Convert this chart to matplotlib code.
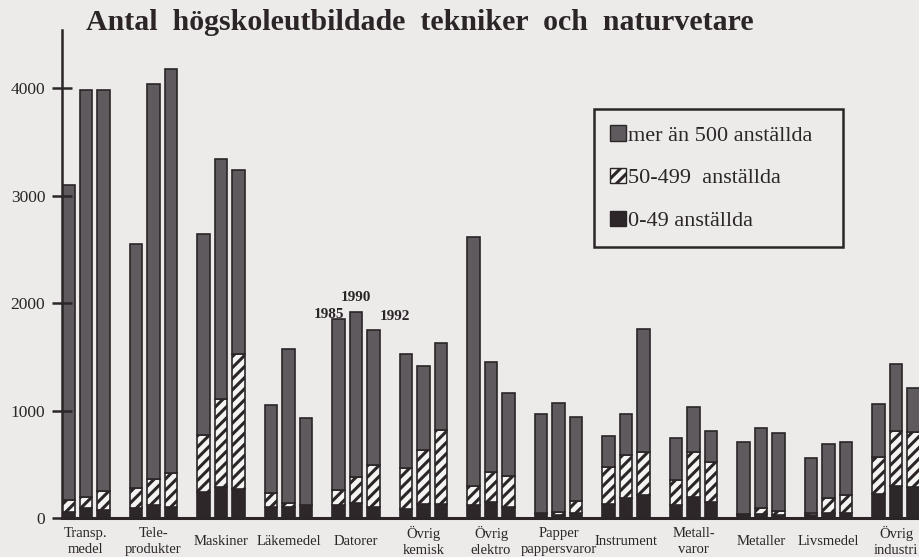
import numpy as np
import matplotlib
matplotlib.use("Agg")
import matplotlib.pyplot as plt
from matplotlib.patches import Patch

plt.rcParams['font.family'] = ['Liberation Serif', 'DejaVu Serif']
plt.rcParams['hatch.linewidth'] = 2.2

# branscher (grupper) och år
categories = ["Transp.\nmedel", "Tele-\nprodukter", "Maskiner", "Läkemedel", "Datorer",
              "Övrig\nkemisk", "Övrig\nelektro", "Papper\npappersvaror", "Instrument",
              "Metall-\nvaror", "Metaller", "Livsmedel", "Övrig\nindustri"]
years = ["1985", "1990", "1992"]

# antal per storleksklass, en rad per bransch: [1985, 1990, 1992]
anst_0_49 = [[60, 90, 75], [90, 120, 105], [240, 290, 270], [100, 100, 120],
             [120, 140, 100], [80, 130, 130], [120, 150, 100], [40, 30, 45],
             [130, 190, 210], [120, 200, 150], [30, 40, 30], [25, 50, 50],
             [220, 300, 290]]
anst_50_499 = [[110, 105, 180], [190, 245, 315], [530, 815, 1255], [130, 40, 5],
               [140, 240, 390], [385, 500, 690], [175, 280, 290], [5, 30, 115],
               [340, 400, 400], [230, 410, 370], [5, 55, 35], [20, 140, 160],
               [350, 510, 510]]
anst_over_500 = [[2930, 3785, 3725], [2270, 3675, 3760], [1870, 2235, 1715], [820, 1430, 805],
                 [1590, 1540, 1260], [1060, 785, 810], [2315, 1020, 770], [925, 1010, 780],
                 [290, 380, 1150], [395, 420, 290], [675, 745, 725], [515, 500, 500],
                 [490, 620, 410]]

yticks = [0, 1000, 2000, 3000, 4000]

bg = '#ecebe9'
ink = '#2b2527'
grey = '#5f5a5e'
dark = '#2e2729'

small = np.array(anst_0_49)
mid = np.array(anst_50_499)
big = np.array(anst_over_500)

fig = plt.figure(figsize=(9.19, 5.57), dpi=100)
fig.patch.set_facecolor(bg)
ax = fig.add_axes([62 / 919, 39 / 557, 857 / 919, 488 / 557])
ax.set_facecolor(bg)

x = np.arange(len(categories))
offsets = [-0.26, 0.0, 0.26]
w = 0.18

for j in range(len(years)):
    xs = x + offsets[j]
    ax.bar(xs, small[:, j], w, color=dark, edgecolor=ink, linewidth=1.2)
    ax.bar(xs, mid[:, j], w, bottom=small[:, j], color='#f4f4f2', edgecolor=ink,
           linewidth=1.2, hatch='///')
    ax.bar(xs, big[:, j], w, bottom=small[:, j] + mid[:, j], color=grey,
           edgecolor=ink, linewidth=1.2)

# årtal ovanför Datorer
totals = small + mid + big
k = categories.index("Datorer")
ax.annotate(years[0], xy=(x[k] + offsets[0] + w / 2, totals[k, 0]), xytext=(0, 1),
            textcoords='offset points', ha='right', va='baseline',
            fontsize=11, fontweight='bold', color=ink)
ax.annotate(years[1], xy=(x[k] + offsets[1], totals[k, 1]), xytext=(0, 8),
            textcoords='offset points', ha='center', va='baseline',
            fontsize=11, fontweight='bold', color=ink)
ax.annotate(years[2], xy=(x[k] + offsets[2] + w / 2, totals[k, 2]), xytext=(0, 7),
            textcoords='offset points', ha='left', va='baseline',
            fontsize=11, fontweight='bold', color=ink)

ax.set_xlim(-24 / 67.5, 833 / 67.5)
ax.set_ylim(0, 4540)

for s in ['top', 'right']:
    ax.spines[s].set_visible(False)
ax.spines['left'].set_linewidth(1.8)
ax.spines['bottom'].set_linewidth(2.2)
ax.spines['left'].set_color(ink)
ax.spines['bottom'].set_color(ink)

ax.set_yticks(yticks)
ax.set_yticklabels([str(v) for v in yticks])
ax.tick_params(axis='y', direction='inout', length=14, width=1.8, color=ink,
               labelsize=12.5, labelcolor=ink, pad=5)
ax.set_xticks(x)
ax.set_xticklabels(categories, va='center', linespacing=1.3)
ax.tick_params(axis='x', length=0, labelsize=10.5, labelcolor=ink, pad=17)

fig.text(420 / 919, 1 - 23 / 557, "Antal  högskoleutbildade  tekniker  och  naturvetare",
         ha='center', va='center', fontsize=21.5, fontweight='bold', color=ink)

handles = [Patch(facecolor=grey, edgecolor=ink, linewidth=1.0),
           Patch(facecolor='#f4f4f2', edgecolor=ink, linewidth=1.0, hatch='///'),
           Patch(facecolor=dark, edgecolor=ink, linewidth=1.0)]
labels = ["mer än 500 anställda", "50-499  anställda", "0-49 anställda"]
leg = ax.legend(handles, labels, loc='upper left', mode='expand',
                bbox_to_anchor=(594 / 919, 1 - 248 / 557, 249 / 919, 139 / 557),
                bbox_transform=fig.transFigure, borderaxespad=0,
                fontsize=16, handlelength=0.7, handleheight=0.7, handletextpad=0.12,
                labelspacing=1.0, borderpad=0.72, fancybox=False, framealpha=1,
                facecolor=bg, edgecolor=ink)
leg.get_frame().set_linewidth(1.8)
for t in leg.get_texts():
    t.set_color(ink)

fig.savefig("out.png", dpi=100, facecolor=bg)
